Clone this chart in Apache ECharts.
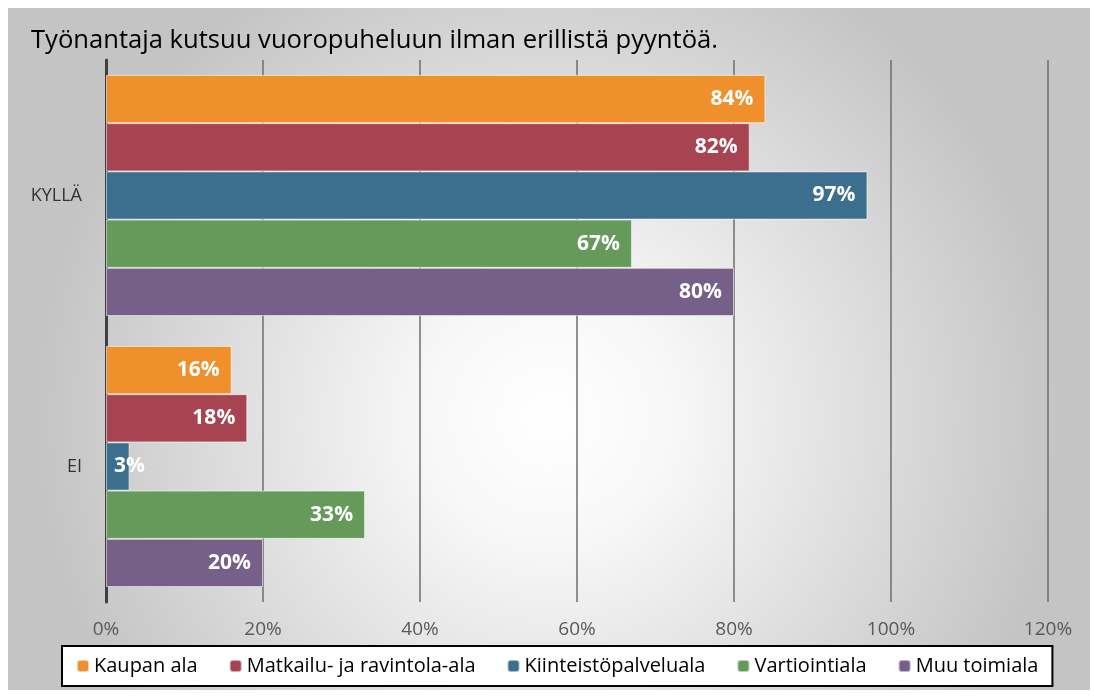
<!DOCTYPE html>
<html>
<head>
<meta charset="utf-8">
<script src="https://cdn.jsdelivr.net/npm/echarts@6/dist/echarts.min.js"></script>
<style>
  body { margin: 0; background: #fff; }
  #main { position: absolute; left: 8px; top: 8px; width: 1082px; height: 682px; }
</style>
</head>
<body>
<div id="main"></div>
<script>
// vastaukset
var categories = ['KYLLÄ', 'EI'];
var seriesNames = ['Kaupan ala', 'Matkailu- ja ravintola-ala', 'Kiinteistöpalveluala', 'Vartiointiala', 'Muu toimiala'];
var kaupan = [84, 16];
var matkailu = [82, 18];
var kiinteisto = [97, 3];
var vartiointi = [67, 33];
var muu = [80, 20];
var colors = ['#EF902D', '#A84452', '#3C6E8D', '#659A5B', '#76608A'];

var values = [kaupan, matkailu, kiinteisto, vartiointi, muu];
var font = '"Open Sans", "Noto Sans", sans-serif';

var chart = echarts.init(document.getElementById('main'));

var series = [];
for (var i = 0; i < seriesNames.length; i++) {
  // pienet arvot: label alkaa palkin alusta kuten Excelissä
  var data = values[i].map(function (v) {
    if (v < 10) return { value: v, label: { position: 'insideLeft', distance: 8 } };
    return v;
  });
  series.push({
    name: seriesNames[i],
    type: 'bar',
    data: data,
    barGap: '0%',
    barCategoryGap: '11%',
    itemStyle: { color: colors[i], borderColor: 'rgba(255,255,255,0.55)', borderWidth: 1 },
    label: {
      show: true,
      position: 'insideRight',
      distance: 12,
      formatter: '{c}%',
      color: '#fff',
      fontWeight: 'bold',
      fontSize: 21,
      fontFamily: font
    }
  });
}

chart.setOption({
  backgroundColor: new echarts.graphic.RadialGradient(0.5, 0.6, 0.75, [
    { offset: 0, color: '#ffffff' },
    { offset: 0.25, color: '#f7f7f7' },
    { offset: 1, color: '#c4c4c4' }
  ]),
  title: {
    text: 'Työnantaja kutsuu vuoropuheluun ilman erillistä pyyntöä.',
    left: 18,
    top: 15,
    textStyle: { fontSize: 25.6, fontWeight: 'normal', color: '#000', fontFamily: font }
  },
  legend: {
    data: seriesNames,
    left: 54,
    top: 638,
    padding: [10, 14],
    itemGap: 31,
    itemWidth: 12,
    itemHeight: 12,
    backgroundColor: '#fff',
    borderColor: '#000',
    borderWidth: 2,
    textStyle: { fontSize: 20, color: '#000', fontFamily: font }
  },
  grid: { left: 98, right: 42, top: 52, bottom: 88 },
  xAxis: {
    type: 'value',
    min: 0,
    max: 120,
    interval: 20,
    axisLine: { show: false },
    axisTick: { show: false },
    axisLabel: { formatter: '{value}%', fontSize: 19, color: '#595959', fontFamily: font, margin: 18 },
    splitLine: { lineStyle: { color: '#6e6e6e', width: 1.5 } }
  },
  yAxis: {
    type: 'category',
    data: categories,
    inverse: true,
    axisLine: { lineStyle: { color: '#404040', width: 3 } },
    axisTick: { show: false },
    axisLabel: { fontSize: 18, color: '#333', fontFamily: font, margin: 24 }
  },
  series: series
});
</script>
</body>
</html>
